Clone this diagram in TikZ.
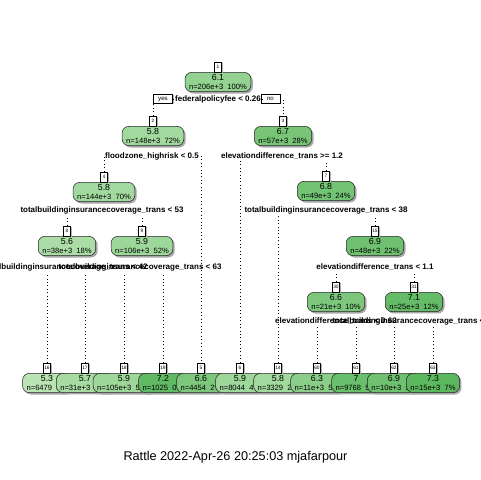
\documentclass[tikz,border=0pt]{standalone}
\usepackage{fontspec}
\setmainfont{Liberation Sans}
\usetikzlibrary{positioning,shadows}
\definecolor{glight}{HTML}{BAE4B3}
\definecolor{gdark}{HTML}{5CB85F}
\newcommand{\val}[1]{{\fontsize{6.6}{7}\selectfont #1}}

\begin{document}
\begin{tikzpicture}[x=0.75pt,y=-0.75pt,
	box/.style={draw=black!85,rounded corners=5pt,inner xsep=3pt,inner ysep=1.4pt,align=center,
		font=\fontsize{5.7}{7}\selectfont,
		drop shadow={shadow xshift=1.4pt,shadow yshift=-1.4pt,fill=black!35,opacity=1}},
	tag/.style={draw=black,fill=white,inner sep=0.7pt,minimum width=5pt,minimum height=7.5pt,
		font=\fontsize{3.6}{4}\selectfont,
		drop shadow={shadow xshift=1pt,shadow yshift=-0.6pt,fill=black!30,opacity=1}},
	yn/.style={tag,minimum width=14pt,minimum height=6.5pt,font=\fontsize{4.6}{5}\selectfont},
	splitlbl/.style={font=\bfseries\fontsize{6}{7}\selectfont,inner sep=1.2pt},
	br/.style={dotted,line width=0.6pt}]
	\fill[white] (0,0) rectangle (480,480);
	\useasboundingbox (0,0) rectangle (480,480);

	% inner nodes
	\node[box,fill=gdark!40!glight] (n1) at (218,82) {\val{6.1}\\n=206e+3\ \ 100\%};
	\node[box,fill=gdark!25!glight] (n2) at (153,136) {\val{5.8}\\n=148e+3\ \ 72\%};
	\node[box,fill=gdark!70!glight] (n3) at (283,136) {\val{6.7}\\n=57e+3\ \ 28\%};
	\node[box,fill=gdark!25!glight] (n4) at (104,192) {\val{5.8}\\n=144e+3\ \ 70\%};
	\node[box,fill=gdark!75!glight] (n7) at (326,191) {\val{6.8}\\n=49e+3\ \ 24\%};
	\node[box,fill=gdark!15!glight] (n8) at (67,246) {\val{5.6}\\n=38e+3\ \ 18\%};
	\node[box,fill=gdark!30!glight] (n9) at (142,246) {\val{5.9}\\n=106e+3\ \ 52\%};
	\node[box,fill=gdark!80!glight] (n15) at (375,246) {\val{6.9}\\n=48e+3\ \ 22\%};
	\node[box,fill=gdark!65!glight] (n30) at (336,302) {\val{6.6}\\n=21e+3\ \ 10\%};
	\node[box,fill=gdark!90!glight] (n31) at (414,302) {\val{7.1}\\n=25e+3\ \ 12\%};

	% leaves
	\node[box,fill=glight] (n16) at (47,383) {\val{5.3}\\n=6479\ \ 3\%};
	\node[box,fill=gdark!20!glight] (n17) at (85,383) {\val{5.7}\\n=31e+3\ \ 15\%};
	\node[box,fill=gdark!30!glight] (n18) at (124,383) {\val{5.9}\\n=105e+3\ \ 51\%};
	\node[box,fill=gdark!95!glight] (n19) at (163,383) {\val{7.2}\\n=1025\ \ 0\%};
	\node[box,fill=gdark!65!glight] (n5) at (201,383) {\val{6.6}\\n=4454\ \ 2\%};
	\node[box,fill=gdark!30!glight] (n6) at (240,383) {\val{5.9}\\n=8044\ \ 4\%};
	\node[box,fill=gdark!25!glight] (n14) at (278,383) {\val{5.8}\\n=3329\ \ 2\%};
	\node[box,fill=gdark!50!glight] (n60) at (317,383) {\val{6.3}\\n=11e+3\ \ 5\%};
	\node[box,fill=gdark!85!glight] (n61) at (356,383) {\val{7}\\n=9768\ \ 5\%};
	\node[box,fill=gdark!80!glight] (n62) at (394,383) {\val{6.9}\\n=10e+3\ \ 5\%};
	\node[box,fill=gdark] (n63) at (433,383) {\val{7.3}\\n=15e+3\ \ 7\%};

	% node numbers
	\node[tag,above=0pt of n1] (t1) {1};
	\node[tag,above=0pt of n2] (t2) {2};
	\node[tag,above=0pt of n3] (t3) {3};
	\node[tag,above=0pt of n4] (t4) {4};
	\node[tag,above=0pt of n7] (t7) {7};
	\node[tag,above=0pt of n8] (t8) {8};
	\node[tag,above=0pt of n9] (t9) {9};
	\node[tag,above=0pt of n15] (t15) {15};
	\node[tag,above=0pt of n30] (t30) {30};
	\node[tag,above=0pt of n31] (t31) {31};
	\node[tag,above=0pt of n16] (t16) {16};
	\node[tag,above=0pt of n17] (t17) {17};
	\node[tag,above=0pt of n18] (t18) {18};
	\node[tag,above=0pt of n19] (t19) {19};
	\node[tag,above=0pt of n5] (t5) {5};
	\node[tag,above=0pt of n6] (t6) {6};
	\node[tag,above=0pt of n14] (t14) {14};
	\node[tag,above=0pt of n60] (t60) {60};
	\node[tag,above=0pt of n61] (t61) {61};
	\node[tag,above=0pt of n62] (t62) {62};
	\node[tag,above=0pt of n63] (t63) {63};

	% split labels
	\node[splitlbl] (s1) at (218,99) {federalpolicyfee < 0.26};
	\node[yn] (yes) at (163,99) {yes};
	\node[yn] (no) at (270.5,99) {no};
	\node[splitlbl] (s2) at (152,156) {floodzone\_highrisk < 0.5};
	\node[splitlbl] (s3) at (282,156) {elevationdifference\_trans >= 1.2};
	\node[splitlbl] (s4) at (102,210) {totalbuildinginsurancecoverage\_trans < 53};
	\node[splitlbl] (s7) at (326,210) {totalbuildinginsurancecoverage\_trans < 38};
	\node[splitlbl] (s8) at (66,267) {totalbuildinginsurancecoverage\_trans < 42};
	\node[splitlbl] (s9) at (140,267) {totalbuildinginsurancecoverage\_trans < 63};
	\node[splitlbl] (s15) at (375,267) {elevationdifference\_trans < 1.1};
	\node[splitlbl] (s30) at (336,321) {elevationdifference\_trans < 0.62};
	\node[splitlbl] (s31) at (414,321) {totalbuildinginsurancecoverage\_trans < 47};

	% branches
	\draw[br] (t2.north) -- (t2.north |- yes.south);
	\draw[br] (yes.east) -- (s1.west);
	\draw[br] (s1.east) -- (no.west);
	\draw[br] (no.east) -| (t3.north);
	\draw[br] (t4.north) |- (s2.west);
	\draw[br] (s2.east) -| (t5.north);
	\draw[br] (t6.north) -- (t6.north |- s3.south);
	\draw[br] (t7.north) -- (t7.north |- s3.south);
	\draw[br] (t8.north) -- (t8.north |- s4.south);
	\draw[br] (t9.north) -- (t9.north |- s4.south);
	\draw[br] (t14.north) -- (t14.north |- s7.south);
	\draw[br] (t15.north) -- (t15.north |- s7.south);
	\draw[br] (t16.north) -- (t16.north |- s8.south);
	\draw[br] (t17.north) -- (t17.north |- s8.south);
	\draw[br] (t18.north) -- (t18.north |- s9.south);
	\draw[br] (t19.north) -- (t19.north |- s9.south);
	\draw[br] (t30.north) -- (t30.north |- s15.south);
	\draw[br] (t31.north) -- (t31.north |- s15.south);
	\draw[br] (t60.north) -- (t60.north |- s30.south);
	\draw[br] (t61.north) -- (t61.north |- s30.south);
	\draw[br] (t62.north) -- (t62.north |- s31.south);
	\draw[br] (t63.north) -- (t63.north |- s31.south);

	\node[font=\fontsize{9.5}{11}\selectfont] (title) at (235.5,457) {Rattle 2022-Apr-26 20:25:03 mjafarpour};
\end{tikzpicture}
\end{document}
